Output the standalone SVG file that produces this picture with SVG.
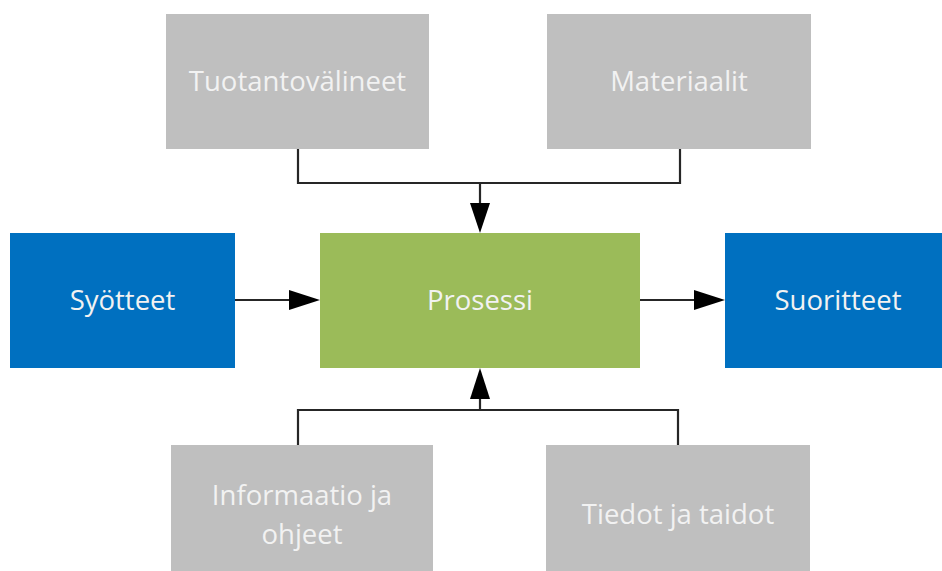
<svg xmlns="http://www.w3.org/2000/svg" width="942" height="571" viewBox="0 0 942 571">
<defs>
<style>
.gray{fill:#bfbfbf}
.blue{fill:#0070c0}
.green{fill:#9bbb59}
.lbl{font-family:"Open Sans","Noto Sans","Liberation Sans",sans-serif;font-size:27.5px;fill:#f2f2f2;text-anchor:middle}
.ln{fill:none;stroke:#262626;stroke-width:2.2}
.ah{fill:#000}
</style>
</defs>
<rect width="942" height="571" fill="#ffffff"/>
<g id="connectors">
<path class="ln" d="M298 149 V183 H680 V149"/>
<path class="ln" d="M480 183 V204"/>
<polygon class="ah" points="470,203 490,203 480,233"/>
<path class="ln" d="M298 445 V410 H678 V445"/>
<path class="ln" d="M480 410 V398"/>
<polygon class="ah" points="470,399 490,399 480,368"/>
<path class="ln" d="M235 300 H291"/>
<polygon class="ah" points="289,290 289,310 320,300"/>
<path class="ln" d="M640 300 H696"/>
<polygon class="ah" points="694,290 694,310 725,300"/>
</g>
<g id="tuotantovalineet">
<rect class="gray" x="166" y="14" width="263" height="135"/>
<text class="lbl" x="297.5" y="91">Tuotantovälineet</text>
</g>
<g id="materiaalit">
<rect class="gray" x="547" y="14" width="264" height="135"/>
<text class="lbl" x="679" y="91">Materiaalit</text>
</g>
<g id="syotteet">
<rect class="blue" x="10" y="233" width="225" height="135"/>
<text class="lbl" x="122.5" y="310">Syötteet</text>
</g>
<g id="prosessi">
<rect class="green" x="320" y="233" width="320" height="135"/>
<text class="lbl" x="480" y="310">Prosessi</text>
</g>
<g id="suoritteet">
<rect class="blue" x="725" y="233" width="225" height="135"/>
<text class="lbl" x="838" y="310">Suoritteet</text>
</g>
<g id="informaatio">
<rect class="gray" x="171" y="445" width="262" height="135"/>
<text class="lbl" x="302" y="505">Informaatio ja</text>
<text class="lbl" x="302" y="544">ohjeet</text>
</g>
<g id="tiedot">
<rect class="gray" x="546" y="445" width="264" height="135"/>
<text class="lbl" x="678" y="524">Tiedot ja taidot</text>
</g>
</svg>
